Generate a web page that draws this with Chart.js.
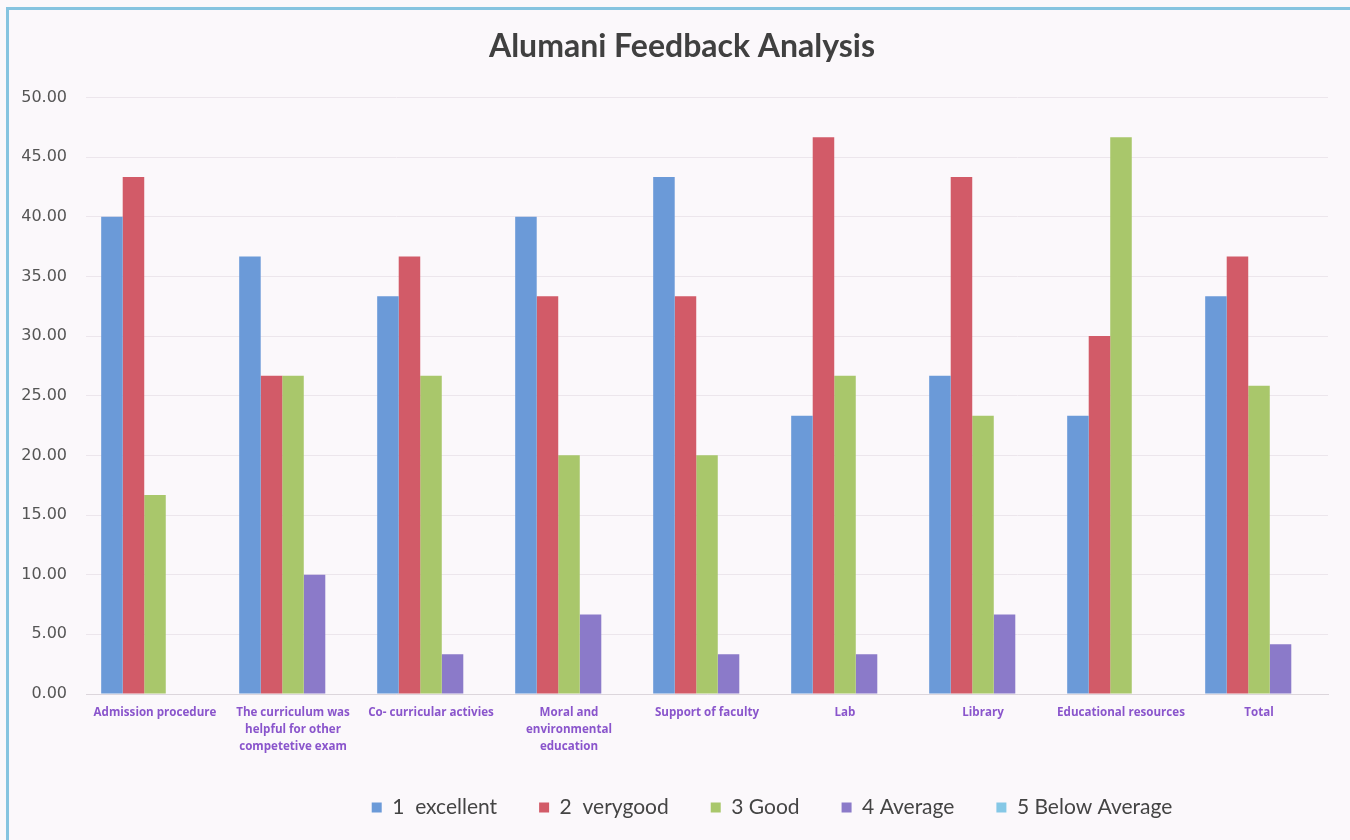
<!DOCTYPE html>
<html>
<head>
<meta charset="utf-8">
<script src="https://cdn.jsdelivr.net/npm/chart.js@4"></script>
<style>
  html, body { margin: 0; padding: 0; background: #fbf8fb; }
  #wrap { position: absolute; left: 0; top: 0; width: 1350px; height: 840px; }
  #frame { position: absolute; left: 6px; top: 7px; width: 1350px; height: 840px;
           border-left: 3px solid #86c4e0; border-top: 3px solid #86c4e0; }
  canvas { position: absolute; left: 0; top: 0; }
</style>
</head>
<body>
<div id="wrap">
  <div id="frame"></div>
  <canvas id="feedbackChart" width="1350" height="840"></canvas>
</div>
<script>
const categories = [
    'Admission procedure',
    ['The curriculum was', 'helpful for other', 'competetive exam'],
    'Co- curricular activies',
    ['Moral and', 'environmental', 'education'],
    'Support of faculty',
    'Lab',
    'Library',
    'Educational resources',
    'Total'
];

const excellent = [40.00, 36.67, 33.33, 40.00, 43.33, 23.33, 26.67, 23.33, 33.33];
const veryGood = [43.33, 26.67, 36.67, 33.33, 33.33, 46.67, 43.33, 30.00, 36.67];
const good = [16.67, 26.67, 26.67, 20.00, 20.00, 26.67, 23.33, 46.67, 25.83];
const average = [0.00, 10.00, 3.33, 6.67, 3.33, 3.33, 6.67, 0.00, 4.17];
const belowAverage = [0, 0, 0, 0, 0, 0, 0, 0, 0];

const seriesNames = ['1  excellent', '2  verygood', '3 Good', '4 Average', '5 Below Average'];
const seriesColors = ['#6b9ad8', '#d25b68', '#a9c76b', '#8b7ac9', '#85c8e6'];

// the title and legend sit a bit right of centre in the original
const shiftBoxes = {
    id: 'shiftBoxes',
    afterLayout(chart) {
        chart.titleBlock.left += 36;
        chart.legend.left += 216;
    }
};

const ctx = document.getElementById('feedbackChart').getContext('2d');

const feedbackChart = new Chart(ctx, {
    type: 'bar',
    data: {
        labels: categories,
        datasets: [excellent, veryGood, good, average, belowAverage].map((values, i) => ({
            label: seriesNames[i],
            data: values,
            backgroundColor: seriesColors[i],
            borderWidth: 0,
            categoryPercentage: 0.78,
            barPercentage: 1.0
        }))
    },
    options: {
        responsive: false,
        animation: false,
        layout: {
            padding: { left: 0, right: 22, top: 0, bottom: 12 }
        },
        plugins: {
            title: {
                display: true,
                text: 'Alumani Feedback Analysis',
                color: '#404040',
                font: { family: 'Lato', size: 32, weight: 'bold' },
                padding: { top: 27, bottom: 32 }
            },
            legend: {
                position: 'bottom',
                labels: {
                    color: '#444444',
                    font: { family: 'Lato', size: 21 },
                    boxWidth: 10,
                    boxHeight: 10,
                    padding: 42
                }
            },
            tooltip: { enabled: false }
        },
        scales: {
            x: {
                grid: { display: false, drawTicks: false },
                border: { color: '#dcd6dc' },
                ticks: {
                    color: '#8a55cc',
                    font: { family: 'Open Sans', size: 11.6, weight: 'bold', lineHeight: 1.47 },
                    padding: 10,
                    maxRotation: 0,
                    autoSkip: false
                },
                afterFit: function(scale) {
                    scale.height = 61;
                }
            },
            y: {
                min: 0,
                max: 50,
                grid: { color: '#ece6ec', drawTicks: false },
                border: { display: false },
                ticks: {
                    stepSize: 5,
                    color: '#555555',
                    font: { family: 'DejaVu Sans', size: 16 },
                    padding: 19,
                    callback: function(value) {
                        return value.toFixed(2);
                    }
                },
                afterFit: function(scale) {
                    scale.width = 86;
                }
            }
        }
    },
    plugins: [shiftBoxes]
});
</script>
</body>
</html>
